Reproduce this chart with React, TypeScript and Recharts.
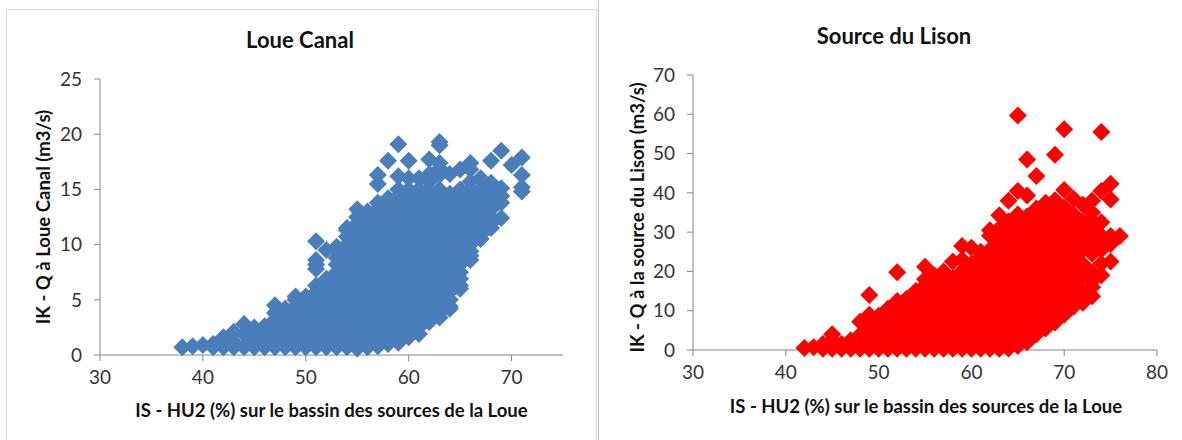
import React from "react";
import { ScatterChart, Scatter, XAxis, YAxis } from "recharts";

// Each HU2 value carries the discharges at that column
const loueHu = [38, 39, 40, 41, 42, 43, 44, 45, 46, 47, 48, 49, 50, 51, 52, 53, 54, 55, 56, 57, 58, 59, 60, 61, 62, 63, 64, 65, 66, 67, 68, 69, 70, 71];
const loueQ = [
  [0.7],
  [0.8],
  [0.9],
  [1.0, 0.7],
  [1.6, 0.7],
  [2.1, 1.2, 0.7],
  [2.8, 1.9, 0.7],
  [2.5, 1.3, 0.7],
  [2.6, 1.9, 0.7],
  [4.5, 3.8, 2.5, 1.3, 0.7],
  [4.2, 3.2, 1.9, 0.7],
  [5.3, 5.0, 3.8, 2.5, 1.3, 0.7],
  [5.3, 4.4, 3.2, 1.9, 0.7],
  [10.3, 8.6, 8.2, 7.8, 6.3, 5.0, 3.8, 2.5, 1.3, 0.7],
  [9.5, 6.9, 5.7, 4.4, 3.2, 1.9, 0.7],
  [9.8, 8.8, 7.5, 6.3, 5.0, 3.8, 2.5, 1.3, 0.7],
  [11.5, 10.7, 9.4, 8.2, 6.9, 5.7, 4.4, 3.2, 1.9, 0.7],
  [13.2, 12.5, 11.3, 10.0, 8.8, 7.5, 6.3, 5.0, 3.8, 2.5, 1.3, 0.6],
  [13.0, 11.9, 10.7, 9.4, 8.2, 6.9, 5.7, 4.4, 3.2, 1.9, 0.7],
  [16.3, 15.5, 13.8, 12.5, 11.3, 10.0, 8.8, 7.5, 6.3, 5.0, 3.8, 2.5, 1.3, 0.8],
  [17.6, 14.2, 13.2, 11.9, 10.7, 9.4, 8.2, 6.9, 5.7, 4.4, 3.2, 1.9, 1.0],
  [19.1, 16.2, 15.0, 13.8, 12.5, 11.3, 10.0, 8.8, 7.5, 6.3, 5.0, 3.8, 2.5, 1.3, 1.1],
  [17.6, 16.0, 14.4, 13.2, 11.9, 10.7, 9.4, 8.2, 6.9, 5.7, 4.4, 3.2, 1.9, 1.6],
  [16.0, 15.0, 13.8, 12.5, 11.3, 10.0, 8.8, 7.5, 6.3, 5.0, 3.8, 2.5, 1.9],
  [17.7, 16.4, 15.7, 14.4, 13.2, 11.9, 10.7, 9.4, 8.2, 6.9, 5.7, 4.4, 3.2, 3.0],
  [19.3, 19.0, 17.4, 16.3, 15.0, 13.8, 12.5, 11.3, 10.0, 8.8, 7.5, 6.3, 5.0, 3.8, 3.4],
  [16.4, 14.6, 13.2, 11.9, 10.7, 9.4, 8.2, 6.9, 5.7, 4.4, 4.2],
  [16.8, 15.0, 13.8, 12.5, 11.3, 10.0, 8.8, 7.5, 6.3, 6.0],
  [17.4, 16.8, 15.7, 14.4, 13.2, 11.9, 10.7, 9.4, 8.6],
  [16.0, 15.0, 13.8, 12.5, 11.3, 10.5],
  [17.6, 15.6, 14.4, 13.2, 11.9, 11.5],
  [18.5, 15.1, 14.4, 13.8, 12.4],
  [17.2],
  [17.9, 16.3, 15.2, 14.8],
];

// Further readings inside the dense part of the Loue cloud
const loueCoreHu = [47, 48, 49, 50, 51, 52, 53, 54, 55, 56, 57, 58, 59, 60, 61, 62, 63, 64, 65, 66, 67, 68];
const loueCoreQ = [
  [3.2, 1.9],
  [3.8, 2.5, 1.3],
  [4.4, 3.2, 1.9],
  [5.0, 3.8, 2.5, 1.3],
  [5.7, 4.4, 3.2, 1.9],
  [6.3, 5.0, 3.8, 2.5, 1.3],
  [9.4, 8.2, 6.9, 5.7, 4.4, 3.2, 1.9],
  [11.3, 10.0, 8.8, 7.5, 6.3, 5.0, 3.8, 2.5, 1.3],
  [11.9, 10.7, 9.4, 8.2, 6.9, 5.7, 4.4, 3.2, 1.9],
  [12.5, 11.3, 10.0, 8.8, 7.5, 6.3, 5.0, 3.8, 2.5, 1.3],
  [13.2, 11.9, 10.7, 9.4, 8.2, 6.9, 5.7, 4.4, 3.2, 1.9],
  [13.8, 12.5, 11.3, 10.0, 8.8, 7.5, 6.3, 5.0, 3.8, 2.5, 1.3],
  [14.4, 13.2, 11.9, 10.7, 9.4, 8.2, 6.9, 5.7, 4.4, 3.2, 1.9],
  [15.0, 13.8, 12.5, 11.3, 10.0, 8.8, 7.5, 6.3, 5.0, 3.8, 2.5],
  [14.4, 13.2, 11.9, 10.7, 9.4, 8.2, 6.9, 5.7, 4.4, 3.2],
  [15.0, 13.8, 12.5, 11.3, 10.0, 8.8, 7.5, 6.3, 5.0, 3.8],
  [16.9, 14.4, 13.2, 11.9, 10.7, 9.4, 8.2, 6.9, 5.7, 4.4],
  [13.8, 12.5, 11.3, 10.0, 8.8, 7.5, 6.3, 5.0],
  [14.4, 13.2, 11.9, 10.7, 9.4, 8.2, 6.9],
  [15.0, 13.8, 12.5, 11.3, 10.0, 9.0],
  [14.4, 13.2, 11.9, 10.9],
  [15.0, 13.8, 12.5],
];

const lisonHu = [42, 43, 44, 45, 46, 47, 48, 49, 50, 51, 52, 53, 54, 55, 56, 57, 58, 59, 60, 61, 62, 63, 64, 65, 66, 67, 68, 69, 70, 71, 72, 73, 74, 75, 76];
const lisonQ = [
  [0.5],
  [0.7],
  [1.5, 0.3],
  [4.0, 2.5, 0.3],
  [1.5, 0.3],
  [2.5, 0.3],
  [7.2, 3.9, 0.3],
  [14.0, 9.0, 5.7, 2.1, 0.3],
  [8.7, 7.5, 3.9, 0.3],
  [10.5, 9.3, 5.7, 2.1, 0.3],
  [19.8, 12.5, 11.1, 7.5, 3.9, 0.3],
  [13.0, 12.9, 9.3, 5.7, 2.1, 0.3],
  [15.0, 14.7, 11.1, 7.5, 3.9, 0.3],
  [21.2, 18.0, 16.5, 12.9, 9.3, 5.7, 2.1, 0.3],
  [19.0, 18.3, 14.7, 11.1, 7.5, 3.9, 0.3],
  [20.0, 16.5, 12.9, 9.3, 5.7, 2.1, 0.3],
  [22.5, 18.3, 14.7, 11.1, 7.5, 3.9, 0.3],
  [26.5, 23.0, 20.1, 16.5, 12.9, 9.3, 5.7, 2.1, 0.3],
  [26.0, 21.9, 18.3, 14.7, 11.1, 7.5, 3.9, 0.3],
  [25.0, 23.7, 20.1, 16.5, 12.9, 9.3, 5.7, 2.1, 0.3],
  [30.5, 29.1, 25.5, 21.9, 18.3, 14.7, 11.1, 7.5, 3.9, 0.3],
  [34.3, 30.9, 27.3, 23.7, 20.1, 16.5, 12.9, 9.3, 5.7, 2.1, 0.3],
  [38.0, 32.7, 29.1, 25.5, 21.9, 18.3, 14.7, 11.1, 7.5, 3.9, 0.4],
  [59.7, 40.5, 34.5, 30.9, 27.3, 23.7, 20.1, 16.5, 12.9, 9.3, 5.7, 2.1, 1.0],
  [48.5, 39.3, 34.0, 32.7, 29.1, 25.5, 21.9, 18.3, 14.7, 11.1, 7.5, 3.9, 2.0],
  [44.3, 36.0, 34.5, 30.9, 27.3, 23.7, 20.1, 16.5, 12.9, 9.3, 5.7, 4.0],
  [37.5, 36.3, 32.7, 29.1, 25.5, 21.9, 18.3, 14.7, 11.1, 7.5, 5.5],
  [49.7, 38.1, 34.5, 30.9, 27.3, 23.7, 20.1, 16.5, 12.9, 9.3, 7.0],
  [56.2, 40.7, 36.3, 32.7, 29.1, 25.5, 21.9, 18.3, 14.7, 11.1, 9.0],
  [38.5, 34.5, 30.9, 27.3, 23.7, 20.1, 16.5, 12.9, 11.0],
  [37.0, 32.7, 29.1, 25.5, 21.9, 18.3, 14.7, 12.0],
  [38.0, 35.0, 33.0, 30.9, 27.3, 24.5, 19.8, 17.5, 16.0, 13.7],
  [55.5, 40.5, 32.5, 29.1, 25.5, 22.0, 19.0],
  [42.3, 38.3, 29.0, 27.0, 22.5],
  [29.0],
];

const loueXTicks = [30, 40, 50, 60, 70];
const loueYTicks = [0, 5, 10, 15, 20, 25];
const lisonXTicks = [30, 40, 50, 60, 70, 80];
const lisonYTicks = [0, 10, 20, 30, 40, 50, 60, 70];

const toPoints = (hu: number[], q: number[][]) =>
  hu.flatMap((x, i) => q[i].map((y) => ({ x, y })));

const FONT = "Lato, 'Open Sans', sans-serif";
const AXIS = "#868686";
const R = 9;

// Excel's square diamond marker; recharts' own diamond is too narrow
function Marker({ cx, cy, fill }: any) {
  return <path d={`M${cx - R},${cy}L${cx},${cy - R}L${cx + R},${cy}L${cx},${cy + R}Z`} fill={fill} />;
}

function Panel({ left, top, width, height, margin, xDomain, yDomain, xTicks, yTicks, data, color, title, titleX, titleY, xLabel, xDx, xDy, yLabel, yDy, yDx }: any) {
  return (
    <div style={{ position: "absolute", left, top, width, height }}>
      <ScatterChart width={width} height={height} margin={margin}>
        <XAxis
          type="number"
          dataKey="x"
          domain={xDomain}
          ticks={xTicks}
          height={30}
          interval={0}
          stroke={AXIS}
          tickSize={6}
          tickMargin={10}
          tick={{ fill: "#333", fontSize: 19, fontFamily: FONT }}
          label={{ value: xLabel, position: "insideBottom", dx: xDx, dy: xDy, fill: "#111", fontSize: 18.5, fontWeight: 700, fontFamily: FONT }}
        />
        <YAxis
          type="number"
          dataKey="y"
          domain={yDomain}
          ticks={yTicks}
          width={60}
          interval={0}
          stroke={AXIS}
          tickSize={6}
          tickMargin={12}
          tick={{ fill: "#333", fontSize: 19, fontFamily: FONT }}
          label={{ value: yLabel, angle: -90, position: "insideLeft", dx: yDx, dy: yDy, fill: "#111", fontSize: 18.5, fontWeight: 700, fontFamily: FONT, textAnchor: "middle" }}
        />
        <Scatter data={data} fill={color} isAnimationActive={false} shape={<Marker />} />
      </ScatterChart>
      <div style={{ position: "absolute", left: titleX - 150, top: titleY - 14, width: 300, textAlign: "center", fontFamily: FONT, fontWeight: 700, fontSize: 22, lineHeight: "28px", color: "#111" }}>
        {title}
      </div>
    </div>
  );
}

export default function App() {
  return (
    <div style={{ position: "absolute", left: 0, top: 0, width: 1182, height: 440, background: "#fff", overflow: "hidden" }}>
      <div style={{ position: "absolute", left: 6, top: 9, width: 589, height: 440, borderLeft: "1px solid #d9d9d9", borderTop: "1px solid #d9d9d9", borderRight: "1px solid #d9d9d9" }} />
      <div style={{ position: "absolute", left: 598, top: 0, width: 1, height: 440, background: "#c8c8c8" }} />
      <Panel
        left={0}
        top={0}
        width={595}
        height={430}
        margin={{ top: 79, right: 32, bottom: 45, left: 40 }}
        xDomain={[30, 75]}
        yDomain={[0, 25]}
        xTicks={loueXTicks}
        yTicks={loueYTicks}
        data={[...toPoints(loueHu, loueQ), ...toPoints(loueCoreHu, loueCoreQ)]}
        color="#4A7EBB"
        title="Loue Canal"
        titleX={300}
        titleY={40}
        xLabel="IS - HU2 (%) sur le bassin des sources de la Loue"
        xDx={0}
        xDy={37}
        yLabel="IK - Q à Loue Canal (m3/s)"
        yDx={-2}
        yDy={0}
      />
      <Panel
        left={600}
        top={0}
        width={582}
        height={430}
        margin={{ top: 75, right: 25, bottom: 50, left: 33 }}
        xDomain={[30, 80]}
        yDomain={[0, 70]}
        xTicks={lisonXTicks}
        yTicks={lisonYTicks}
        data={toPoints(lisonHu, lisonQ)}
        color="#FF0000"
        title="Source du Lison"
        titleX={294}
        titleY={36}
        xLabel="IS - HU2 (%) sur le bassin des sources de la Loue"
        xDx={1}
        xDy={38}
        yLabel="IK - Q à la source du Lison (m3/s)"
        yDx={-1}
        yDy={5}
      />
    </div>
  );
}
